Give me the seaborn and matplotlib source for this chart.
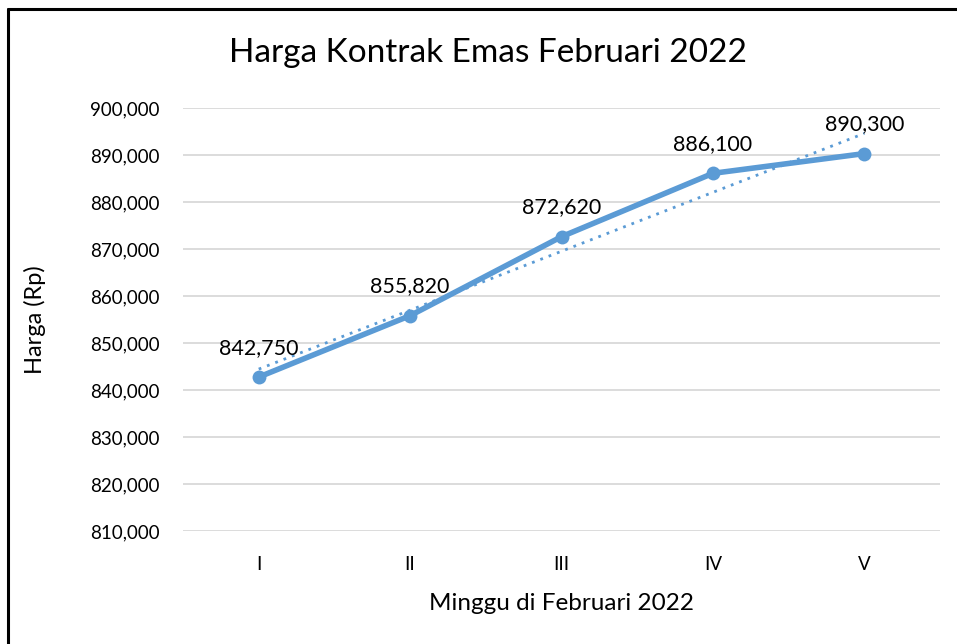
import matplotlib
matplotlib.use("Agg")
import matplotlib.pyplot as plt
import seaborn as sns
import pandas as pd
import numpy as np
from matplotlib.lines import Line2D
from matplotlib.ticker import FuncFormatter

weeks = ["I", "II", "III", "IV", "V"]
prices = [842750, 855820, 872620, 886100, 890300]
y_ticks = [810000, 820000, 830000, 840000, 850000, 860000, 870000, 880000, 890000, 900000]

title = "Harga Kontrak Emas Februari 2022"
xlabel = "Minggu di Februari 2022"
ylabel = "Harga (Rp)"

sns.set_theme(style="white")
plt.rcParams["font.family"] = ["Lato", "DejaVu Sans"]

df = pd.DataFrame({"pos": np.arange(len(weeks)), "week": weeks, "price": prices})

color = "#5B9BD5"
fig = plt.figure(figsize=(9.57, 6.44), dpi=100)
ax = fig.add_axes([183/957, 1-531/644, (940-183)/957, (531-108)/644])

# gridlines
for t in y_ticks:
    ax.axhline(t, color="#D9D9D9", lw=1.3, zorder=0)

sns.regplot(data=df, x="pos", y="price", scatter=False, ci=None, ax=ax,
            line_kws=dict(color=color, lw=2.0, ls=(0, (1, 2.2)), zorder=2))
sns.lineplot(data=df, x="pos", y="price", ax=ax, color=color, lw=4,
             marker="o", markersize=10, markeredgewidth=0, zorder=3)

for x, y in zip(df["pos"], df["price"]):
    ax.annotate(f"{y:,}", (x, y), xytext=(0, 14), textcoords="offset points",
                ha="center", va="bottom", fontsize=15.5, color="#000000")

ax.set_xlim(-0.5, len(weeks) - 0.5)
ax.set_ylim(y_ticks[0], y_ticks[-1])
ax.set_xticks(df["pos"])
ax.set_xticklabels(weeks)
ax.set_yticks(y_ticks)
ax.yaxis.set_major_formatter(FuncFormatter(lambda v, p: f"{int(v):,}"))
ax.tick_params(axis="both", length=0, labelsize=13.5, colors="#000000")
ax.tick_params(axis="x", pad=18)
ax.tick_params(axis="y", pad=17)
for s in ax.spines.values():
    s.set_visible(False)

ax.set_xlabel(xlabel, fontsize=17.5, color="#000000")
ax.xaxis.set_label_coords(0.5, -(603-531)/423, transform=ax.transAxes)
ax.xaxis.label.set_va("center")
ax.set_ylabel(ylabel, fontsize=17, color="#000000")
ax.yaxis.set_label_coords(-(183-35)/757, (531-320)/423, transform=ax.transAxes)
ax.yaxis.label.set_va("center")
fig.text(488/957, 1-53/644, title, ha="center", va="center", fontsize=24, color="#000000")

# outer border (left and top visible)
fig.add_artist(Line2D([8/957, 8/957], [0, 1-9/644], color="black", lw=2.2, transform=fig.transFigure))
fig.add_artist(Line2D([8/957, 1], [1-9/644, 1-9/644], color="black", lw=2.2, transform=fig.transFigure))

fig.savefig("out.png", dpi=100, facecolor="white")
